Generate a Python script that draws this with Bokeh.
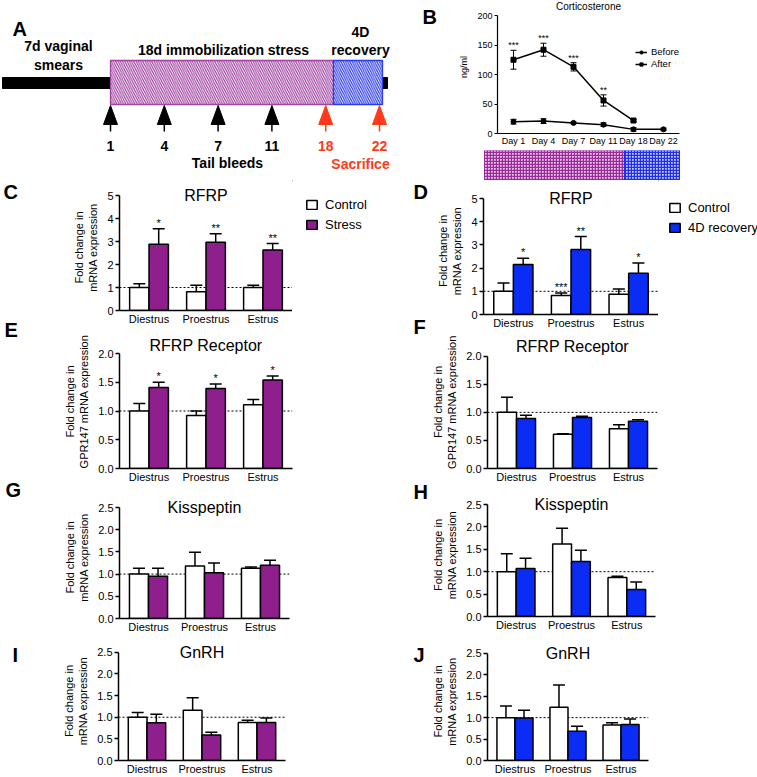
from bokeh.plotting import figure
from bokeh.layouts import column, row
from bokeh.models import (ColumnDataSource, FactorRange, Range1d, Whisker, TeeHead,
                          Span, Label, Legend, LegendItem, FixedTicker, NumeralTickFormatter)
from bokeh.transform import dodge
from bokeh.core.properties import value
from bokeh.embed import file_html
from bokeh.resources import INLINE

FONT = "Liberation Sans"
PURPLE = "#8f1f8d"
BLUE = "#0a2cf5"
RED = "#ff3a1a"
A_PURPLE = "#a044a0"
A_BLUE = "#2a3af0"

# ---------------- data ----------------
stages = ["Diestrus", "Proestrus", "Estrus"]

timeline_days = ["1", "4", "7", "11", "18", "22"]
timeline_is_sacrifice = [False, False, False, False, True, True]

cort_days = ["Day 1", "Day 4", "Day 7", "Day 11", "Day 18", "Day 22"]
cort_before_mean = [20, 21, 18, 15, 7, 7]
cort_before_sem = [4, 4, 1.5, 3, 3, 2]
cort_after_days = ["Day 1", "Day 4", "Day 7", "Day 11", "Day 18"]
cort_after_mean = [125, 142, 113, 56, 22]
cort_after_sem = [16, 11, 7, 9.5, 2]
cort_after_stars = ["***", "***", "***", "**", ""]

# C  RFRP, stress
rfrp_s_ctrl = [1.0, 0.82, 1.0]
rfrp_s_ctrl_sem = [0.16, 0.28, 0.10]
rfrp_s_trt = [2.88, 2.97, 2.63]
rfrp_s_trt_sem = [0.67, 0.37, 0.28]
rfrp_s_stars = ["*", "**", "**"]
# D  RFRP, 4D recovery
rfrp_r_ctrl = [1.0, 0.82, 0.87]
rfrp_r_ctrl_sem = [0.36, 0.11, 0.23]
rfrp_r_ctrl_stars = ["", "***", ""]
rfrp_r_trt = [2.16, 2.80, 1.78]
rfrp_r_trt_sem = [0.26, 0.56, 0.44]
rfrp_r_stars = ["*", "**", "*"]
# E  RFRP receptor, stress
gpr_s_ctrl = [1.0, 0.92, 1.11]
gpr_s_ctrl_sem = [0.13, 0.08, 0.09]
gpr_s_trt = [1.41, 1.39, 1.54]
gpr_s_trt_sem = [0.09, 0.08, 0.07]
gpr_s_stars = ["*", "*", "*"]
# F  RFRP receptor, recovery
gpr_r_ctrl = [1.0, 0.61, 0.71]
gpr_r_ctrl_sem = [0.27, 0.01, 0.07]
gpr_r_trt = [0.89, 0.91, 0.84]
gpr_r_trt_sem = [0.06, 0.02, 0.03]
# G  Kisspeptin, stress
kiss_s_ctrl = [1.0, 1.18, 1.13]
kiss_s_ctrl_sem = [0.13, 0.31, 0.03]
kiss_s_trt = [0.95, 1.03, 1.20]
kiss_s_trt_sem = [0.18, 0.22, 0.11]
# H  Kisspeptin, recovery
kiss_r_ctrl = [1.0, 1.62, 0.87]
kiss_r_ctrl_sem = [0.40, 0.35, 0.03]
kiss_r_trt = [1.07, 1.23, 0.60]
kiss_r_trt_sem = [0.23, 0.25, 0.17]
# I  GnRH, stress
gnrh_s_ctrl = [1.0, 1.16, 0.88]
gnrh_s_ctrl_sem = [0.11, 0.29, 0.05]
gnrh_s_trt = [0.87, 0.59, 0.88]
gnrh_s_trt_sem = [0.20, 0.06, 0.10]
# J  GnRH, recovery
gnrh_r_ctrl = [1.0, 1.24, 0.83]
gnrh_r_ctrl_sem = [0.27, 0.52, 0.05]
gnrh_r_trt = [0.99, 0.68, 0.84]
gnrh_r_trt_sem = [0.18, 0.12, 0.13]


def letter(p, text, x, y, size="20px"):
    p.add_layout(Label(x=x, y=y, x_units="canvas", y_units="canvas", text=text,
                       text_font=FONT, text_font_size=size, text_font_style="bold",
                       text_baseline="top", text_align="left", text_color="black"))


def blank(W, H):
    p = figure(width=W, height=H, title=None, x_range=Range1d(0, W), y_range=Range1d(H, 0),
               output_backend="svg", toolbar_location=None, x_axis_location=None,
               y_axis_location=None, min_border=0, outline_line_color=None,
               frame_align=False)
    p.grid.visible = False
    return p


def style_axes(p, tick_size="11px", label_size="11px"):
    for ax in p.axis:
        ax.axis_line_color = "black"
        ax.axis_line_width = 1.5
        ax.major_tick_line_color = "black"
        ax.major_tick_line_width = 1.5
        ax.minor_tick_line_color = None
        ax.major_label_text_font = FONT
        ax.major_label_text_font_size = tick_size
        ax.major_label_text_color = "black"
        ax.axis_label_text_font = FONT
        ax.axis_label_text_font_size = label_size
        ax.axis_label_text_font_style = "normal"
        ax.axis_label_text_color = "black"
    p.xaxis.major_tick_line_color = None
    p.xaxis.major_tick_out = 0
    p.xaxis.major_tick_in = 0
    p.xaxis.major_label_standoff = 2
    p.yaxis.major_tick_out = 4
    p.yaxis.major_tick_in = 0
    p.yaxis.major_label_standoff = 2
    p.xgrid.visible = False
    p.ygrid.visible = False
    p.outline_line_color = None


def bar_panel(W, H, left, fw, top_axis, fh, title, title_d, ylabel, ymax, step, fmt,
              ctrl, ctrl_sem, trt, trt_sem, color,
              trt_stars=None, ctrl_stars=None):
    pad = title_d + 11
    p = figure(width=W, height=H, title=None,
               x_range=FactorRange(factors=stages, range_padding=0.012),
               y_range=Range1d(0, ymax * (fh + pad) / fh), output_backend="svg",
               toolbar_location=None, frame_align=False,
               min_border_left=left, min_border_right=W - left - fw,
               min_border_top=top_axis - pad, min_border_bottom=H - top_axis - fh)
    src = ColumnDataSource(dict(
        stage=stages, ctrl=ctrl, trt=trt,
        ctrl_up=[m + s for m, s in zip(ctrl, ctrl_sem)],
        trt_up=[m + s for m, s in zip(trt, trt_sem)],
        ctrl_star=ctrl_stars or [""] * len(stages),
        trt_star=trt_stars or [""] * len(stages),
    ))
    p.add_layout(Span(location=1, dimension="width", line_color="black",
                      line_dash="2 2", line_width=1, level="underlay"))
    off = 0.17
    wid = 0.34
    xc = dodge("stage", -off, range=p.x_range)
    xt = dodge("stage", off, range=p.x_range)
    p.vbar(x=xc, top="ctrl", width=wid, source=src, fill_color="white",
           line_color="black", line_width=1.5)
    p.vbar(x=xt, top="trt", width=wid, source=src, fill_color=color,
           line_color="black", line_width=1.5)
    for base, lo, hi in ((xc, "ctrl", "ctrl_up"), (xt, "trt", "trt_up")):
        p.add_layout(Whisker(base=base, lower=lo, upper=hi, source=src,
                             line_color="black", line_width=1.5, lower_head=None,
                             upper_head=TeeHead(size=12, line_color="black", line_width=1.5),
                             level="glyph"))
    for base, hi, st in ((xc, "ctrl_up", "ctrl_star"), (xt, "trt_up", "trt_star")):
        p.text(x=base, y=hi, text=st, source=src, text_align="center",
               text_baseline="bottom", text_font=value(FONT), text_font_size="11px",
               text_color="black")
    p.yaxis.ticker = FixedTicker(ticks=[i * step for i in range(int(round(ymax / step)) + 1)])
    p.yaxis.bounds = (0, ymax)
    if fmt:
        p.yaxis.formatter = NumeralTickFormatter(format=fmt)
    p.yaxis.axis_label = ylabel
    style_axes(p)
    p.yaxis.axis_label_standoff = 5
    # panel title, centred over the category axis, at the top of the value axis
    p.add_layout(Label(x=len(stages) / 2, y=ymax * (1 + title_d / fh), text=title,
                       text_font=FONT, text_font_size="16px",
                       text_align="center", text_baseline="middle", text_color="black"))
    return p


def legend_panel(W, H, color, trt_name, loc):
    p = blank(W, H)
    # proxy renderers (placed outside the visible area) that carry the legend swatch styles
    rc = p.vbar(x=[-100], top=[-100], width=1, fill_color="white", line_color="black",
                line_width=1.5)
    rt = p.vbar(x=[-100], top=[-100], width=1, fill_color=color, line_color="black",
                line_width=1.5)
    p.add_layout(Legend(items=[LegendItem(label="Control", renderers=[rc]),
                               LegendItem(label=trt_name, renderers=[rt])],
                        location=loc, glyph_width=13, glyph_height=11,
                        label_height=11, label_standoff=7, spacing=5, padding=0, margin=0,
                        label_text_font=FONT, label_text_font_size="13px",
                        label_text_color="black",
                        border_line_alpha=0, background_fill_alpha=0))
    return p


# ---------------- Panel A: timeline schematic ----------------
pA = blank(400, 180)
pA.quad(left=[2], right=[387], top=[77], bottom=[88], color="black")
pA.quad(left=[110], right=[333], top=[60], bottom=[104], fill_color="white",
        hatch_pattern="\\", hatch_color=A_PURPLE, hatch_scale=4.5, hatch_weight=1.2,
        line_color=A_PURPLE, line_width=1.3)
pA.quad(left=[333], right=[382], top=[60], bottom=[104], fill_color="white",
        hatch_pattern="\\", hatch_color=A_BLUE, hatch_scale=4.5, hatch_weight=1.2,
        line_color=A_BLUE, line_width=1.3)
ax = [110 + i * 53.8 for i in range(len(timeline_days))]
acol = [RED if s else "black" for s in timeline_is_sacrifice]
pA.patches(xs=[[x - 7, x + 7, x] for x in ax], ys=[[124, 124, 105] for _ in ax],
           fill_color=acol, line_color=acol)
pA.segment(x0=ax, y0=[124] * len(ax), x1=ax, y1=[131] * len(ax), line_color=acol, line_width=1.5)
pA.text(x=ax, y=[145] * len(ax), text=timeline_days, text_color=acol,
        text_align="center", text_baseline="middle", text_font=value(FONT),
        text_font_size="14px", text_font_style="bold")
hdr_text = ["7d vaginal", "smears", "18d immobilization stress", "4D", "recovery",
            "Tail bleeds", "Sacrifice"]
hdr_x = [58, 58, 223, 360, 360, 227, 360]
hdr_y = [45, 64, 49, 31, 49, 162, 163]
hdr_c = ["black"] * 6 + [RED]
pA.text(x=hdr_x, y=hdr_y, text=hdr_text, text_color=hdr_c, text_align="center",
        text_baseline="middle", text_font=value(FONT), text_font_size="14px",
        text_font_style="bold")
letter(pA, "A", 12, 17)

# ---------------- Panel B: corticosterone ----------------
B_FH = 118   # px for 0..200
B_PAD = 15
pB = figure(width=317, height=150, title=None,
            x_range=FactorRange(factors=cort_days, range_padding=0.011),
            y_range=Range1d(0, 200 * (B_FH + B_PAD) / B_FH), output_backend="svg",
            toolbar_location=None, frame_align=False,
            min_border_left=57, min_border_right=78, min_border_top=0, min_border_bottom=17)
srcb = ColumnDataSource(dict(day=cort_days, m=cort_before_mean,
                             lo=[m - s for m, s in zip(cort_before_mean, cort_before_sem)],
                             hi=[m + s for m, s in zip(cort_before_mean, cort_before_sem)]))
srca = ColumnDataSource(dict(day=cort_after_days, m=cort_after_mean,
                             lo=[m - s for m, s in zip(cort_after_mean, cort_after_sem)],
                             hi=[m + s for m, s in zip(cort_after_mean, cort_after_sem)],
                             star=cort_after_stars))
lb = pB.line("day", "m", source=srcb, line_color="black", line_width=1.5)
sb = pB.scatter("day", "m", source=srcb, marker="circle", size=5, color="black")
la = pB.line("day", "m", source=srca, line_color="black", line_width=1.5)
sa = pB.scatter("day", "m", source=srca, marker="square", size=5, color="black")
for s in (srcb, srca):
    pB.add_layout(Whisker(base="day", lower="lo", upper="hi", source=s, line_color="black",
                          line_width=1, level="glyph",
                          lower_head=TeeHead(size=6, line_color="black", line_width=1),
                          upper_head=TeeHead(size=6, line_color="black", line_width=1)))
pB.text(x="day", y="hi", text="star", source=srca, text_align="center", text_baseline="bottom",
        text_font=value(FONT), text_font_size="9px", text_color="black")
pB.yaxis.ticker = FixedTicker(ticks=[0, 50, 100, 150, 200])
pB.yaxis.bounds = (0, 200)
pB.yaxis.axis_label = "ng/ml"
style_axes(pB, tick_size="9px", label_size="9px")
pB.xaxis.axis_line_width = 1.2
pB.yaxis.axis_line_width = 1.2
pB.yaxis.major_tick_line_width = 1.2
pB.yaxis.major_tick_out = 3
pB.yaxis.axis_label_standoff = 5
pB.add_layout(Legend(items=[LegendItem(label="Before", renderers=[lb, sb]),
                            LegendItem(label="After", renderers=[la, sa])],
                     location=(138, 64), glyph_width=12, glyph_height=8, label_height=8,
                     label_standoff=4, spacing=1, padding=0, margin=0,
                     label_text_font=FONT, label_text_font_size="9.5px",
                     label_text_color="black",
                     border_line_alpha=0, background_fill_alpha=0))
pB.add_layout(Label(x=len(cort_days) / 2, y=200 * (1 + 9 / B_FH), text="Corticosterone",
                    text_font=FONT, text_font_size="10px", text_align="center",
                    text_baseline="middle", text_color="black"))

stripB = blank(40, 180)
letter(stripB, "B", 22, 5)

# checkered phase bar under B
pK = blank(317, 30)
pK.quad(left=[44], right=[184], top=[0], bottom=[30], fill_color="#e9c8e9",
        hatch_pattern="+", hatch_color="#9a2c9a", hatch_scale=3, hatch_weight=1.5,
        line_color="#9a2c9a", line_width=1)
pK.quad(left=[184], right=[239], top=[0], bottom=[30], fill_color="#c9cdfb",
        hatch_pattern="+", hatch_color="#1f2ef0", hatch_scale=3, hatch_weight=1.5,
        line_color="#1f2ef0", line_width=1)

# ---------------- bar panels ----------------
YL = "Fold change in\nmRNA expression"
YL2 = "Fold change in\nGPR147 mRNA expression"

pC = bar_panel(252, 150, 79, 173, 15, 115, "RFRP", 0, YL, 5, 1, None,
               rfrp_s_ctrl, rfrp_s_ctrl_sem, rfrp_s_trt, rfrp_s_trt_sem, PURPLE,
               trt_stars=rfrp_s_stars)
pCleg = legend_panel(108, 150, PURPLE, "Stress", (13, 98))
pE = bar_panel(360, 155, 79, 173, 23, 115, "RFRP Receptor", 8, YL2, 2.0, 0.5, "0.0",
               gpr_s_ctrl, gpr_s_ctrl_sem, gpr_s_trt, gpr_s_trt_sem, PURPLE,
               trt_stars=gpr_s_stars)
pG = bar_panel(360, 150, 79, 170, 22, 111, "Kisspeptin", 0, YL, 2.5, 0.5, "0.0",
               kiss_s_ctrl, kiss_s_ctrl_sem, kiss_s_trt, kiss_s_trt_sem, PURPLE)
pI = bar_panel(360, 142, 78, 167, 17, 110, "GnRH", 0, YL, 2.5, 0.5, "0.0",
               gnrh_s_ctrl, gnrh_s_ctrl_sem, gnrh_s_trt, gnrh_s_trt_sem, PURPLE)

pD = bar_panel(230, 153, 55, 175, 18, 116, "RFRP", 0, YL, 5, 1, None,
               rfrp_r_ctrl, rfrp_r_ctrl_sem, rfrp_r_trt, rfrp_r_trt_sem, BLUE,
               trt_stars=rfrp_r_stars, ctrl_stars=rfrp_r_ctrl_stars)
pDleg = legend_panel(99, 153, BLUE, "4D recovery", (10, 98))
pF = bar_panel(329, 152, 55, 174, 23, 114, "RFRP Receptor", 10, YL2, 2.0, 0.5, "0.0",
               gpr_r_ctrl, gpr_r_ctrl_sem, gpr_r_trt, gpr_r_trt_sem, BLUE)
pH = bar_panel(329, 150, 55, 172, 19, 112, "Kisspeptin", 0, YL, 2.5, 0.5, "0.0",
               kiss_r_ctrl, kiss_r_ctrl_sem, kiss_r_trt, kiss_r_trt_sem, BLUE)
pJ = bar_panel(329, 142, 52, 168, 18, 109, "GnRH", 0, YL, 2.5, 0.5, "0.0",
               gnrh_r_ctrl, gnrh_r_ctrl_sem, gnrh_r_trt, gnrh_r_trt_sem, BLUE)

# letter strips
stripL = blank(40, 597)
for t, x, y in (("C", 3, 0), ("E", 4, 138), ("G", 5, 298), ("I", 12, 463)):
    letter(stripL, t, x, y)
stripR = blank(28, 597)
for t, x, y in (("D", 13, 0), ("F", 13, 135), ("H", 13, 300), ("J", 13, 463)):
    letter(stripR, t, x, y)

layout = column(
    row(pA, stripB, column(pB, pK)),
    row(stripL, column(row(pC, pCleg), pE, pG, pI),
        stripR, column(row(pD, pDleg), pF, pH, pJ)),
)

open("out.html", "w").write(file_html(layout, INLINE))
